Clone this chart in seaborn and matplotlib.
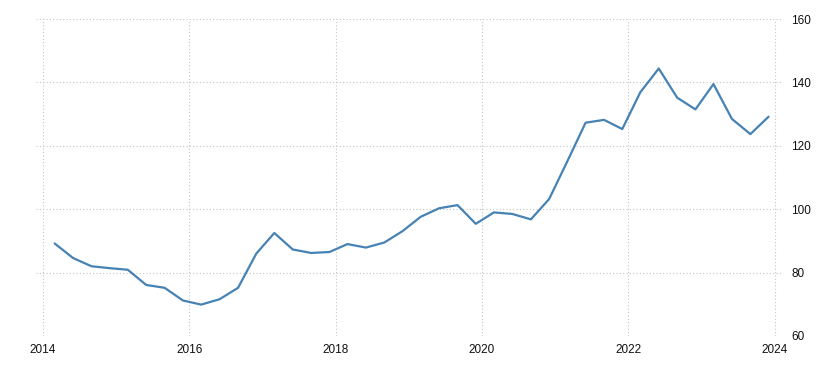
import matplotlib
matplotlib.use("Agg")
import matplotlib.pyplot as plt
import seaborn as sns
import pandas as pd

quarters = pd.date_range("2014-03-01", periods=40, freq="3MS")
values = [
    89.2, 84.6, 82.0, 81.4,
    80.9, 76.1, 75.2, 71.2,
    69.9, 71.6, 75.2, 86.0,
    92.5, 87.3, 86.2, 86.5,
    89.0, 87.9, 89.5, 93.1,
    97.6, 100.3, 101.3, 95.4,
    99.0, 98.5, 96.8, 103.2,
    115.0, 127.3, 128.2, 125.3,
    136.9, 144.4, 135.2, 131.5,
    139.5, 128.5, 123.7, 129.2,
]
y_ticks = [60, 80, 100, 120, 140, 160]
x_tick_years = [2014, 2016, 2018, 2020, 2022, 2024]

df = pd.DataFrame({"date": quarters, "value": values})

sns.set_theme(style="white")
plt.rcParams["font.family"] = ["Liberation Sans", "DejaVu Sans"]

fig = plt.figure(figsize=(8.18, 3.67), dpi=100)
ax = fig.add_axes([0.044, 0.0845, 0.913, 0.8635])

sns.lineplot(data=df, x="date", y="value", ax=ax, color="#4682b4", linewidth=1.6)

ax.set_xlim(pd.Timestamp("2013-11-28"), pd.Timestamp("2024-02-10"))
ax.set_ylim(60, 160)
ax.set_yticks(y_ticks)
ax.set_xticks([pd.Timestamp(f"{y}-01-01") for y in x_tick_years])
ax.set_xticklabels([str(y) for y in x_tick_years])
ax.yaxis.tick_right()
ax.tick_params(axis="both", length=0, labelsize=8.5, labelcolor="#111111")
ax.tick_params(axis="y", pad=6)
ax.tick_params(axis="x", pad=6)
ax.set_xlabel("")
ax.set_ylabel("")
ax.grid(True, which="major", color="#c4c4c4", linestyle=(0, (1, 2)), linewidth=0.8)
for s in ax.spines.values():
    s.set_visible(False)

fig.savefig("out.png", dpi=100)
